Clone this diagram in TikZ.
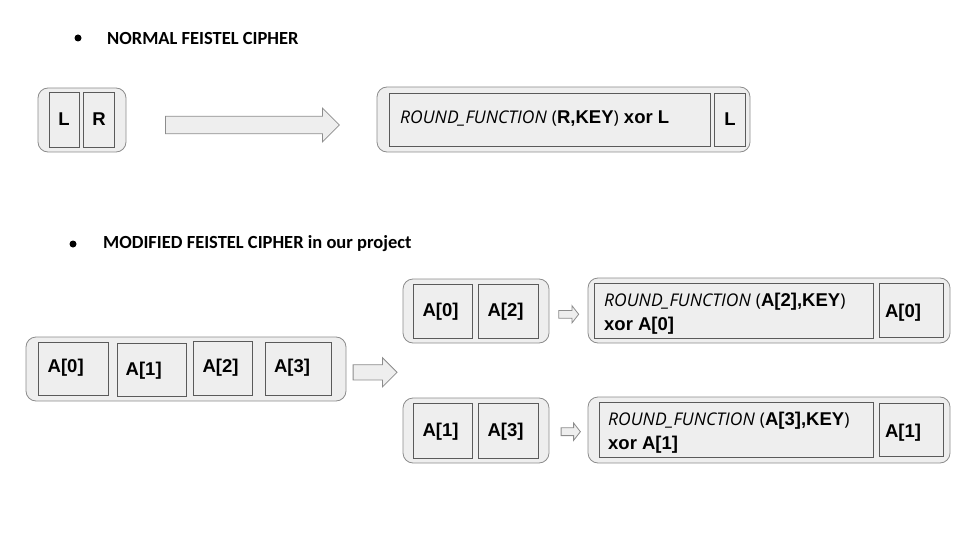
\documentclass[tikz,border=0pt]{standalone}
\usepackage{xcolor}
\usepackage{tikz}
\usetikzlibrary{shapes.arrows,positioning}
\usepackage{fontspec}
\setmainfont{Liberation Sans}
\newfontfamily\headfont{Carlito}
\newfontfamily\fnfont{Open Sans}
\definecolor{boxfill}{HTML}{EEEEEE}
\definecolor{outline}{HTML}{8C8C8C}
\definecolor{innerline}{HTML}{5A5A5A}
\newcommand{\roundfn}[1]{{\fnfont\mdseries\fontsize{17.5}{24}\selectfont\itshape ROUND\_FUNCTION} {\fnfont\mdseries\fontsize{17.5}{24}\selectfont(}#1,KEY{\fnfont\mdseries\fontsize{17.5}{24}\selectfont)}}

\begin{document}
\begin{tikzpicture}[x=1pt,y=-1pt,
  outerbox/.style={draw=outline,fill=boxfill,line width=0.8pt,rounded corners=10pt,inner sep=0pt},
  innerbox/.style={draw=innerline,fill=boxfill,line width=0.7pt,inner sep=0pt},
  blockarrow/.style={single arrow,draw=outline,fill=boxfill,line width=0.8pt,inner xsep=0pt,minimum size=0pt,anchor=tail},
  label/.style={font=\fontsize{18.5}{24}\selectfont\bfseries,inner sep=0pt},
  heading/.style={font=\headfont\fontsize{18.5}{22}\selectfont\bfseries,anchor=west,inner sep=0pt},
  bullet/.style={circle,fill=black,inner sep=0pt,minimum size=7pt}]
\useasboundingbox (0,0) rectangle (960,540);

%Bullet: normal
\node[bullet] (bul1) at (78,38) {};
\node[heading] (head1) at (107,38) {NORMAL FEISTEL CIPHER};

%Rounded Rect: L R
\node[outerbox,minimum width=88pt,minimum height=64pt] (lr) at (82,120) {};
\node[innerbox,minimum width=30pt,minimum height=55pt] (lbox) at (64,119.5) {};
\node[innerbox,minimum width=31pt,minimum height=55pt] (rbox) at (98.5,119.5) {};
%Right Arrow
\node[blockarrow,minimum height=174pt,inner ysep=8.3pt,single arrow head extend=8.2pt] (arrtop) at (165,125) {};
%Rounded Rect: result
\node[outerbox,minimum width=373pt,minimum height=65pt] (topout) at (563.5,119.5) {};
\node[innerbox,minimum width=321pt,minimum height=53pt] (topfn) at (549.5,119.5) {};
\node[innerbox,minimum width=31pt,minimum height=53pt] (topl) at (729.5,119.5) {};

%Bullet: modified
\node[bullet] (bul2) at (73,244) {};
\node[heading] (head2) at (103,244) {MODIFIED FEISTEL CIPHER in our project};

%Rounded Rect: A[0..3]
\node[outerbox,minimum width=320pt,minimum height=64pt] (arrin) at (186,369) {};
\node[innerbox,minimum width=70pt,minimum height=53pt] (a0) at (73,368.5) {};
\node[innerbox,minimum width=69pt,minimum height=53pt] (a1) at (151.5,369.5) {};
\node[innerbox,minimum width=59pt,minimum height=54pt] (a2) at (222.5,368) {};
\node[innerbox,minimum width=66pt,minimum height=53pt] (a3) at (298,368.5) {};
%Right Arrow
\node[blockarrow,minimum height=44pt,inner ysep=7.2pt,single arrow head extend=7pt] (arrmid) at (352.7,372.3) {};

%Rounded Rect: pair 1
\node[outerbox,minimum width=146pt,minimum height=64pt] (pairA) at (476,311) {};
\node[innerbox,minimum width=59pt,minimum height=54pt] (pairAl) at (442.5,311) {};
\node[innerbox,minimum width=60pt,minimum height=54pt] (pairAr) at (508,311) {};
%Right Arrow
\node[blockarrow,minimum height=20pt,inner ysep=3.5pt,single arrow head extend=4.8pt,single arrow tip angle=104] (arrA) at (558.3,314.3) {};
%Rounded Rect: result 1
\node[outerbox,minimum width=362pt,minimum height=65pt] (resA) at (769,310.5) {};
\node[innerbox,minimum width=279pt,minimum height=55pt] (resAfn) at (733.5,310.5) {};
\node[innerbox,minimum width=64pt,minimum height=54pt] (resAr) at (911,310) {};

%Rounded Rect: pair 2
\node[outerbox,minimum width=146pt,minimum height=65pt] (pairB) at (476,430.5) {};
\node[innerbox,minimum width=59pt,minimum height=55pt] (pairBl) at (442.5,430.5) {};
\node[innerbox,minimum width=60pt,minimum height=55pt] (pairBr) at (508,430.5) {};
%Right Arrow
\node[blockarrow,minimum height=19.3pt,inner ysep=3.5pt,single arrow head extend=4.8pt,single arrow tip angle=104] (arrB) at (560.7,431.7) {};
%Rounded Rect: result 2
\node[outerbox,minimum width=362pt,minimum height=66pt] (resB) at (769,430) {};
\node[innerbox,minimum width=274pt,minimum height=55pt] (resBfn) at (736,429.5) {};
\node[innerbox,minimum width=64pt,minimum height=53pt] (resBr) at (911,429.5) {};

% Text Node
\node[label] (tl) at (64,119) {L};
\node[label] (tr) at (99,119) {R};
\node[label,anchor=west] (tfn) at (400,119) {\roundfn{R} xor L};
\node[label] (tl2) at (730,119) {L};
\node[label] (ta0) at (65.7,368) {A[0]};
\node[label] (ta1) at (143.7,371) {A[1]};
\node[label] (ta2) at (220.5,368) {A[2]};
\node[label] (ta3) at (292,368) {A[3]};
\node[label] (tpa0) at (440.5,312) {A[0]};
\node[label] (tpa2) at (505.5,312) {A[2]};
\node[label,anchor=west,align=left] (tfnA) at (604,314) {\roundfn{A[2]}\\xor A[0]};
\node[label] (tra0) at (903,313) {A[0]};
\node[label] (tpa1) at (440.5,431.5) {A[1]};
\node[label] (tpa3) at (505.5,431.5) {A[3]};
\node[label,anchor=west,align=left] (tfnB) at (608,433) {\roundfn{A[3]}\\xor A[1]};
\node[label] (tra1) at (903,433) {A[1]};
\end{tikzpicture}
\end{document}
